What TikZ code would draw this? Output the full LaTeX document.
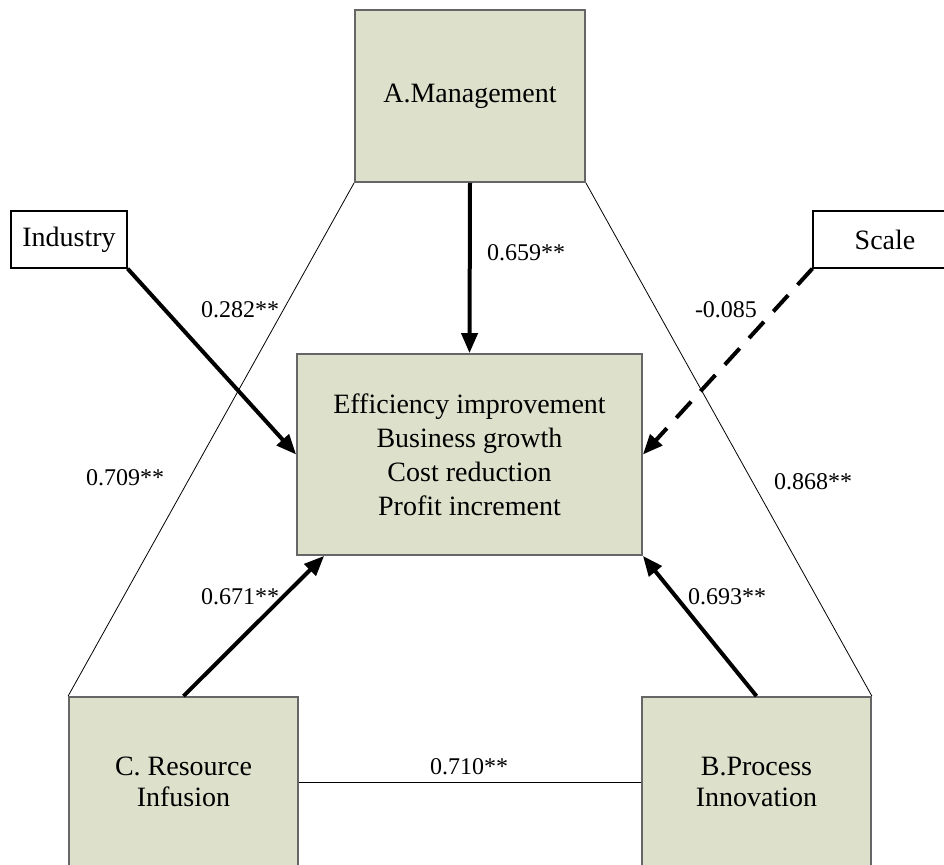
\documentclass[tikz,border=0pt]{standalone}
\usepackage{fontspec}
\setmainfont{Liberation Serif}
\usepackage{tikz}
\usetikzlibrary{arrows.meta, positioning}
\definecolor{boxfill}{RGB}{221,225,204}
\tikzset{factor/.style={rectangle, draw=black!60, line width=0.9pt, fill=boxfill, align=center, font=\fontsize{14}{15.5}\selectfont, inner sep=0pt},
    control/.style={rectangle, draw=black, line width=0.6pt, fill=white, font=\fontsize{14}{17}\selectfont, inner sep=0pt},
    effect/.style={line width=2pt, -{Triangle[length=10pt,width=8pt]}},
    corr/.style={line width=0.4pt},
    coef/.style={font=\fontsize{12}{14}\selectfont, inner sep=0pt}}

\begin{document}
\begin{tikzpicture}[x=0.5pt,y=-0.5pt]
                 \useasboundingbox (0,0) rectangle (944,864);
                 \clip (0,0) rectangle (944,864);

                 \node[factor, minimum width=115pt, minimum height=86pt] (mgmt) at (470,96) {A.Management};
                 \node[factor, minimum width=114.5pt, minimum height=85pt] (resource) at (183.5,782) {C. Resource\\Infusion};
                 \node[factor, minimum width=114.5pt, minimum height=85pt] (process) at (756.5,782) {B.Process\\Innovation};
                 \node[factor, minimum width=172.5pt, minimum height=100.5pt, font=\fontsize{14}{17}\selectfont] (outcome) at (469.5,454.5) {Efficiency improvement\\Business growth\\Cost reduction\\Profit increment};

                 \node[control, minimum width=58pt, minimum height=28.5pt] (industry) at (69,239.5) {Industry};
                 \node[control, minimum width=72pt, minimum height=28.5pt] (scale) at (885,239.5) {Scale};

                 \draw[corr](mgmt.south west)--(resource.north west);
                 \draw[corr](mgmt.south east)--(process.north east);
                 \draw[corr](resource.east)--(process.west);

                 \draw[effect](mgmt.south)--(outcome.north);
                 \draw[effect](industry.south east)--(outcome.west);
                 \draw[effect, dash pattern=on 11pt off 7pt](scale.south west)--(outcome.east);
                 \draw[effect](resource.north)--([xshift=14pt]outcome.south west);
                 \draw[effect](process.north)--(outcome.south east);

                 \node[coef] (c659) at (526,253) {0.659**};
                 \node[coef] (c282) at (240,310) {0.282**};
                 \node[coef] (c085) at (726,310) {-0.085};
                 \node[coef] (c709) at (125,478) {0.709**};
                 \node[coef] (c868) at (813,482) {0.868**};
                 \node[coef] (c671) at (240,597) {0.671**};
                 \node[coef] (c693) at (727,597) {0.693**};
                 \node[coef] (c710) at (469,767) {0.710**};
             \end{tikzpicture}
\end{document}
